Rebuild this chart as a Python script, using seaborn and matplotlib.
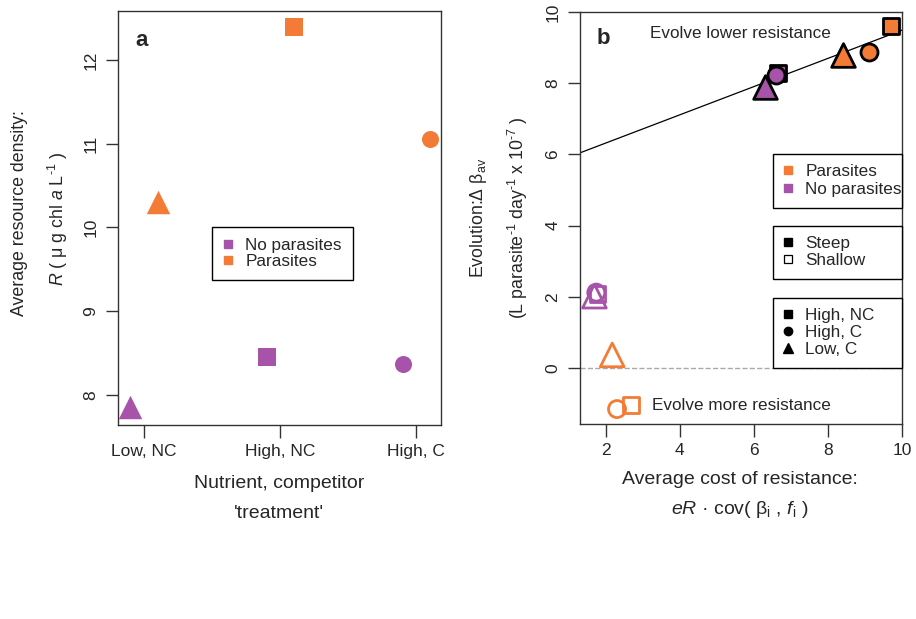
import seaborn as sns
import matplotlib.pyplot as plt
import pandas as pd
from matplotlib.lines import Line2D

# colours and markers
ORANGE = "#F47B36"
PURPLE = "#A653A9"

# panel a: average resource density by treatment
treatments_a = ["Low, NC", "High, NC", "High, C"]
res_no_parasites = [7.85, 8.45, 8.37]
res_parasites = [10.30, 12.39, 11.06]

# panel b: evolution vs cost of resistance
treat_b = ["High, NC", "High, C", "Low, C"]
cost_steep_par = [9.71, 9.11, 8.41]
evo_steep_par = [9.61, 8.87, 8.80]
cost_steep_nopar = [6.66, 6.60, 6.30]
evo_steep_nopar = [8.29, 8.24, 7.90]
cost_shallow_par = [2.68, 2.30, 2.17]
evo_shallow_par = [-1.04, -1.15, 0.37]
cost_shallow_nopar = [1.77, 1.74, 1.69]
evo_shallow_nopar = [2.08, 2.12, 2.02]
fit_intercept = 5.53
fit_slope = 0.396

sns.set_style("ticks")
plt.rcParams["font.family"] = ["Liberation Sans", "DejaVu Sans"]
plt.rcParams["mathtext.fontset"] = "custom"
plt.rcParams["mathtext.rm"] = "Liberation Sans"
plt.rcParams["mathtext.it"] = "Liberation Sans:italic"
plt.rcParams["mathtext.bf"] = "Liberation Sans:bold"

fig = plt.figure(figsize=(9.16, 6.19), dpi=100)
ax_a = fig.add_axes([0.1288, 0.3134, 0.3526, 0.6688])
ax_b = fig.add_axes([0.6332, 0.3150, 0.3515, 0.6656])

marker_of = {"Low, NC": "^", "High, NC": "s", "High, C": "o",
             "Low, C": "^"}
size_a = {"^": 285, "s": 168, "o": 150}
size_b = {"^": 290, "s": 128, "o": 150}

# ---- panel a
df_a = pd.DataFrame({
    "treatment": treatments_a * 2,
    "pos": [1, 2, 3] * 2,
    "R": res_no_parasites + res_parasites,
    "group": ["No parasites"] * 3 + ["Parasites"] * 3,
})
df_a["x"] = df_a["pos"] + df_a["group"].map({"No parasites": -0.1, "Parasites": 0.1})
for _, row in df_a.iterrows():
    m = marker_of[row["treatment"]]
    col = PURPLE if row["group"] == "No parasites" else ORANGE
    sns.scatterplot(x=[row["x"]], y=[row["R"]], ax=ax_a, marker=m, s=size_a[m],
                    color=col, linewidth=0, clip_on=False, zorder=3)

ax_a.set_xlim(0.81, 3.18)
ax_a.set_ylim(7.64, 12.585)
ax_a.set_xticks([1, 2, 3])
ax_a.set_xticklabels(treatments_a)
ax_a.set_yticks([8, 9, 10, 11, 12])
ax_a.set_xlabel("")
ax_a.set_ylabel("")
ax_a.text(0.055, 0.955, "a", transform=ax_a.transAxes, fontsize=16,
          fontweight="bold", va="top", ha="left")

leg_a = ax_a.legend(
    handles=[Line2D([], [], ls="", marker="s", color=PURPLE, markersize=6),
             Line2D([], [], ls="", marker="s", color=ORANGE, markersize=6)],
    labels=["No parasites", "Parasites"], loc="upper left",
    bbox_to_anchor=(212 / 916, 1 - 227 / 619), bbox_transform=fig.transFigure,
    borderaxespad=0, fontsize=12.3, frameon=True, fancybox=False,
    edgecolor="black", framealpha=1, handlelength=0.6, handletextpad=0.7,
    borderpad=0.65, labelspacing=0.06)
leg_a.get_frame().set_linewidth(1.0)

# ---- panel b
ax_b.axhline(0, color="#AAAAAA", ls="--", lw=1, zorder=1)
xs = [1.3, 10.0]
ax_b.plot(xs, [fit_intercept + fit_slope * v for v in xs], color="black",
          lw=0.9, zorder=2)


def draw_group(ax, costs, evos, col, filled):
    for c, e, t in zip(costs, evos, treat_b):
        m = marker_of[t]
        sns.scatterplot(x=[c], y=[e], ax=ax, marker=m, s=size_b[m], color=col,
                        linewidth=2.0, clip_on=False, zorder=3)
        coll = ax.collections[-1]
        if filled:
            coll.set_edgecolor("black")
        else:
            coll.set_edgecolor(col)
            coll.set_facecolor("none")


draw_group(ax_b, cost_shallow_nopar, evo_shallow_nopar, PURPLE, False)
draw_group(ax_b, cost_shallow_par, evo_shallow_par, ORANGE, False)
draw_group(ax_b, cost_steep_nopar, evo_steep_nopar, PURPLE, True)
draw_group(ax_b, cost_steep_par, evo_steep_par, ORANGE, True)

ax_b.set_xlim(1.3, 10.0)
ax_b.set_ylim(-1.57, 10.0)
ax_b.set_xticks([2, 4, 6, 8, 10])
ax_b.set_yticks([0, 2, 4, 6, 8, 10])
ax_b.set_xlabel("")
ax_b.set_ylabel("")
ax_b.text(0.05, 0.96, "b", transform=ax_b.transAxes, fontsize=16,
          fontweight="bold", va="top", ha="left")
ax_b.text(0.497, 0.948, "Evolve lower resistance", transform=ax_b.transAxes,
          fontsize=12.3, ha="center", va="center")
ax_b.text(0.5, 0.045, "Evolve more resistance", transform=ax_b.transAxes,
          fontsize=12.3, ha="center", va="center")

leg_kw = dict(loc="upper left", mode="expand", bbox_transform=fig.transFigure,
              borderaxespad=0, fontsize=12.3, frameon=True, fancybox=False,
              edgecolor="black", framealpha=1, handlelength=0.6,
              handletextpad=0.7, borderpad=0.6)
box_x, box_w = 773 / 916, 129 / 916
leg1 = ax_b.legend(
    handles=[Line2D([], [], ls="", marker="s", color=ORANGE, markersize=6),
             Line2D([], [], ls="", marker="s", color=PURPLE, markersize=6)],
    labels=["Parasites", "No parasites"], labelspacing=0.18,
    bbox_to_anchor=(box_x, 1 - 154 / 619, box_w, 0), **leg_kw)
ax_b.add_artist(leg1)
leg2 = ax_b.legend(
    handles=[Line2D([], [], ls="", marker="s", color="black", markersize=6),
             Line2D([], [], ls="", marker="s", mfc="none", mec="black",
                    markersize=6, mew=0.9)],
    labels=["Steep", "Shallow"], labelspacing=0.12,
    bbox_to_anchor=(box_x, 1 - 226 / 619, box_w, 0), **leg_kw)
ax_b.add_artist(leg2)
leg3 = ax_b.legend(
    handles=[Line2D([], [], ls="", marker="s", color="black", markersize=6),
             Line2D([], [], ls="", marker="o", color="black", markersize=6),
             Line2D([], [], ls="", marker="^", color="black", markersize=6.5)],
    labels=["High, NC", "High, C", "Low, C"], labelspacing=0.12,
    bbox_to_anchor=(box_x, 1 - 298 / 619, box_w, 0), **leg_kw)
for lg in (leg1, leg2, leg3):
    lg.get_frame().set_linewidth(1.0)
    lg.set_zorder(5)

# ticks in R style
for ax in (ax_a, ax_b):
    for sp in ax.spines.values():
        sp.set_visible(True)
        sp.set_linewidth(1.0)
        sp.set_color("#333333")
    ax.tick_params(axis="both", direction="out", length=9, width=1.0,
                   labelsize=12.5, color="#333333", pad=5)
    for lab in ax.get_yticklabels():
        lab.set_rotation(90)
        lab.set_va("center")

# axis labels as figure text
fig.text(20 / 916, 0.656, "Average resource density:", rotation=90,
         ha="center", va="center", fontsize=12.8)
fig.text(58 / 916, 0.646,
         r"$\it{R}$ ( μ g chl $\it{a}$ L$^{\text{-1}}$ )",
         rotation=90, ha="center", va="center", fontsize=12.8)
fig.text(279 / 916, 1 - 483 / 619, "Nutrient, competitor", ha="center",
         va="center", fontsize=14)
fig.text(279 / 916, 1 - 513 / 619, "'treatment'", ha="center", va="center",
         fontsize=14)
fig.text(478 / 916, 0.648, r"Evolution:Δ β$_{\rm av}$", rotation=90,
         ha="center", va="center", fontsize=12.8)
fig.text(518 / 916, 0.648,
         r"(L parasite$^{\text{-1}}$ day$^{\text{-1}}$ x 10$^{\text{-7}}$ )",
         rotation=90, ha="center", va="center", fontsize=12.8)
fig.text(740 / 916, 1 - 480 / 619, "Average cost of resistance:",
         ha="center", va="center", fontsize=14)
fig.text(740 / 916, 1 - 510 / 619,
         r"$\it{eR}$ · cov( β$_{\rm i}$ , $\it{f}_{\rm i}$ )",
         ha="center", va="center", fontsize=14)

fig.savefig("out.png", dpi=100)
plt.close(fig)
